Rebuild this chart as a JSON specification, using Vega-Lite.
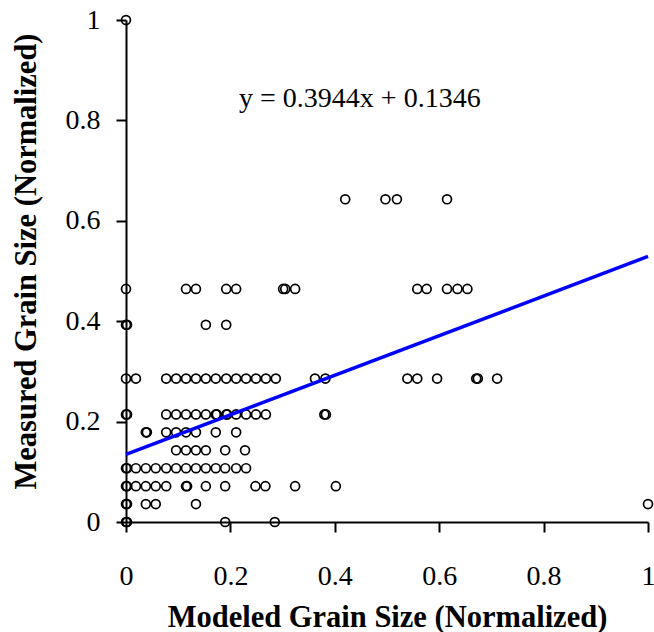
{
  "$schema": "https://vega.github.io/schema/vega-lite/v6.json",
  "autosize": {"type": "none"},
  "width": 522,
  "height": 502,
  "padding": {"left": 126, "top": 20, "right": 6, "bottom": 110},
  "background": "white",
  "config": {
    "view": {"stroke": null},
    "axis": {
      "grid": false,
      "domainColor": "black",
      "domainWidth": 2,
      "tickColor": "black",
      "tickWidth": 2,
      "tickSize": 10,
      "labelFont": "Liberation Serif",
      "labelFontSize": 28,
      "labelColor": "black",
      "labelFlush": false,
      "titleFont": "Liberation Serif",
      "titleFontSize": 30.5,
      "titleFontWeight": "bold",
      "titleColor": "black"
    }
  },
  "datasets": {
    "points": [
      {"modeled": 0, "measured": 1},
      {"modeled": 0.42, "measured": 0.6429},
      {"modeled": 0.497, "measured": 0.6429},
      {"modeled": 0.519, "measured": 0.6429},
      {"modeled": 0.615, "measured": 0.6429},
      {"modeled": 0, "measured": 0.4643},
      {"modeled": 0.115, "measured": 0.4643},
      {"modeled": 0.134, "measured": 0.4643},
      {"modeled": 0.192, "measured": 0.4643},
      {"modeled": 0.211, "measured": 0.4643},
      {"modeled": 0.301, "measured": 0.4643},
      {"modeled": 0.305, "measured": 0.4643},
      {"modeled": 0.324, "measured": 0.4643},
      {"modeled": 0.558, "measured": 0.4643},
      {"modeled": 0.576, "measured": 0.4643},
      {"modeled": 0.615, "measured": 0.4643},
      {"modeled": 0.635, "measured": 0.4643},
      {"modeled": 0.654, "measured": 0.4643},
      {"modeled": 0, "measured": 0.3929},
      {"modeled": 0.002, "measured": 0.3929},
      {"modeled": 0.153, "measured": 0.3929},
      {"modeled": 0.192, "measured": 0.3929},
      {"modeled": 0, "measured": 0.2857},
      {"modeled": 0.019, "measured": 0.2857},
      {"modeled": 0.077, "measured": 0.2857},
      {"modeled": 0.096, "measured": 0.2857},
      {"modeled": 0.115, "measured": 0.2857},
      {"modeled": 0.134, "measured": 0.2857},
      {"modeled": 0.153, "measured": 0.2857},
      {"modeled": 0.172, "measured": 0.2857},
      {"modeled": 0.192, "measured": 0.2857},
      {"modeled": 0.211, "measured": 0.2857},
      {"modeled": 0.23, "measured": 0.2857},
      {"modeled": 0.249, "measured": 0.2857},
      {"modeled": 0.268, "measured": 0.2857},
      {"modeled": 0.287, "measured": 0.2857},
      {"modeled": 0.362, "measured": 0.2857},
      {"modeled": 0.382, "measured": 0.2857},
      {"modeled": 0.539, "measured": 0.2857},
      {"modeled": 0.558, "measured": 0.2857},
      {"modeled": 0.596, "measured": 0.2857},
      {"modeled": 0.671, "measured": 0.2857},
      {"modeled": 0.674, "measured": 0.2857},
      {"modeled": 0.711, "measured": 0.2857},
      {"modeled": 0, "measured": 0.2143},
      {"modeled": 0.002, "measured": 0.2143},
      {"modeled": 0.077, "measured": 0.2143},
      {"modeled": 0.096, "measured": 0.2143},
      {"modeled": 0.115, "measured": 0.2143},
      {"modeled": 0.134, "measured": 0.2143},
      {"modeled": 0.153, "measured": 0.2143},
      {"modeled": 0.172, "measured": 0.2143},
      {"modeled": 0.174, "measured": 0.2143},
      {"modeled": 0.192, "measured": 0.2143},
      {"modeled": 0.194, "measured": 0.2143},
      {"modeled": 0.211, "measured": 0.2143},
      {"modeled": 0.23, "measured": 0.2143},
      {"modeled": 0.249, "measured": 0.2143},
      {"modeled": 0.268, "measured": 0.2143},
      {"modeled": 0.38, "measured": 0.2143},
      {"modeled": 0.383, "measured": 0.2143},
      {"modeled": 0.038, "measured": 0.1786},
      {"modeled": 0.04, "measured": 0.1786},
      {"modeled": 0.077, "measured": 0.1786},
      {"modeled": 0.096, "measured": 0.1786},
      {"modeled": 0.115, "measured": 0.1786},
      {"modeled": 0.134, "measured": 0.1786},
      {"modeled": 0.172, "measured": 0.1786},
      {"modeled": 0.211, "measured": 0.1786},
      {"modeled": 0.096, "measured": 0.1429},
      {"modeled": 0.115, "measured": 0.1429},
      {"modeled": 0.134, "measured": 0.1429},
      {"modeled": 0.153, "measured": 0.1429},
      {"modeled": 0.19, "measured": 0.1429},
      {"modeled": 0.228, "measured": 0.1429},
      {"modeled": 0, "measured": 0.1071},
      {"modeled": 0.002, "measured": 0.1071},
      {"modeled": 0.019, "measured": 0.1071},
      {"modeled": 0.038, "measured": 0.1071},
      {"modeled": 0.057, "measured": 0.1071},
      {"modeled": 0.077, "measured": 0.1071},
      {"modeled": 0.096, "measured": 0.1071},
      {"modeled": 0.115, "measured": 0.1071},
      {"modeled": 0.134, "measured": 0.1071},
      {"modeled": 0.153, "measured": 0.1071},
      {"modeled": 0.172, "measured": 0.1071},
      {"modeled": 0.19, "measured": 0.1071},
      {"modeled": 0.211, "measured": 0.1071},
      {"modeled": 0.23, "measured": 0.1071},
      {"modeled": 0, "measured": 0.0714},
      {"modeled": 0.002, "measured": 0.0714},
      {"modeled": 0.019, "measured": 0.0714},
      {"modeled": 0.038, "measured": 0.0714},
      {"modeled": 0.057, "measured": 0.0714},
      {"modeled": 0.077, "measured": 0.0714},
      {"modeled": 0.115, "measured": 0.0714},
      {"modeled": 0.117, "measured": 0.0714},
      {"modeled": 0.153, "measured": 0.0714},
      {"modeled": 0.19, "measured": 0.0714},
      {"modeled": 0.248, "measured": 0.0714},
      {"modeled": 0.267, "measured": 0.0714},
      {"modeled": 0.324, "measured": 0.0714},
      {"modeled": 0.402, "measured": 0.0714},
      {"modeled": 0, "measured": 0.0357},
      {"modeled": 0.002, "measured": 0.0357},
      {"modeled": 0.038, "measured": 0.0357},
      {"modeled": 0.057, "measured": 0.0357},
      {"modeled": 0.134, "measured": 0.0357},
      {"modeled": 1, "measured": 0.0357},
      {"modeled": 0, "measured": 0},
      {"modeled": 0.002, "measured": 0},
      {"modeled": 0.19, "measured": 0},
      {"modeled": 0.285, "measured": 0}
    ],
    "fit": [
      {"modeled": 0, "measured": 0.1346},
      {"modeled": 1, "measured": 0.529}
    ],
    "label": [
      {"modeled": 0.448, "measured": 0.826, "text": "y = 0.3944x + 0.1346"}
    ]
  },
  "layer": [
    {
      "data": {"name": "points"},
      "mark": {"type": "point", "shape": "circle", "filled": false, "stroke": "black", "strokeWidth": 1.7, "size": 80, "opacity": 1, "clip": false},
      "encoding": {
        "x": {
          "field": "modeled", "type": "quantitative",
          "scale": {"domain": [0, 1], "nice": false, "zero": false},
          "axis": {
            "values": [0, 0.2, 0.4, 0.6, 0.8, 1],
            "format": "~g",
            "labelBaseline": "alphabetic",
            "labelPadding": 52,
            "title": "Modeled Grain Size (Normalized)",
            "titleBaseline": "alphabetic",
            "titleY": 104
          }
        },
        "y": {
          "field": "measured", "type": "quantitative",
          "scale": {"domain": [0, 1], "nice": false, "zero": false},
          "axis": {
            "values": [0, 0.2, 0.4, 0.6, 0.8, 1],
            "format": "~g",
            "labelPadding": 16,
            "title": "Measured Grain Size (Normalized)",
            "titleBaseline": "alphabetic",
            "titleX": -91,
            "titleY": 241
          }
        }
      }
    },
    {
      "data": {"name": "fit"},
      "mark": {"type": "line", "color": "#0000FF", "strokeWidth": 3.5, "clip": false},
      "encoding": {
        "x": {"field": "modeled", "type": "quantitative"},
        "y": {"field": "measured", "type": "quantitative"}
      }
    },
    {
      "data": {"name": "label"},
      "mark": {"type": "text", "font": "Liberation Serif", "fontSize": 28, "color": "black", "align": "center", "baseline": "alphabetic"},
      "encoding": {
        "x": {"field": "modeled", "type": "quantitative"},
        "y": {"field": "measured", "type": "quantitative"},
        "text": {"field": "text"}
      }
    }
  ]
}
